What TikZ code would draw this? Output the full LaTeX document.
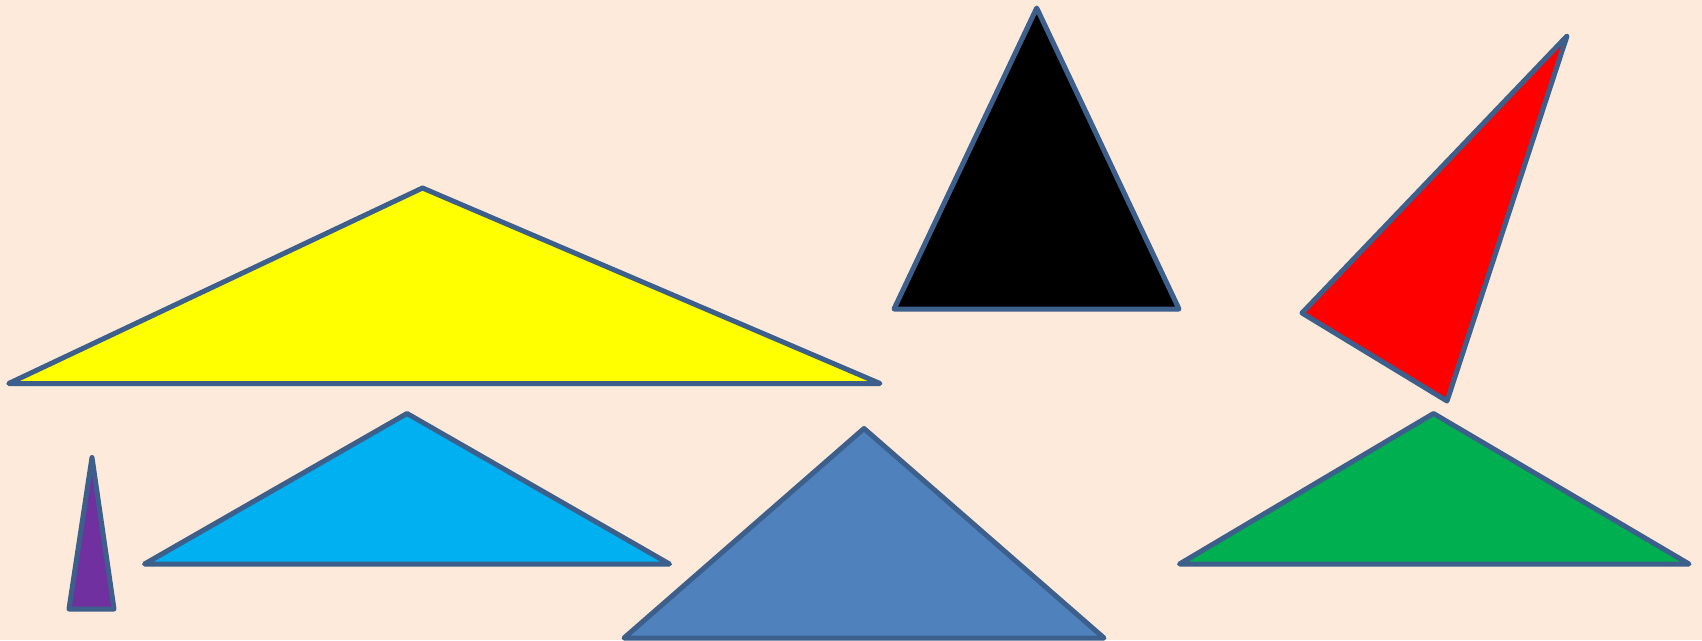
\documentclass[tikz,border=0pt]{standalone}
\definecolor{bgc}{HTML}{FDEADA}
\definecolor{edge}{HTML}{3C5F8C}
\definecolor{cyellow}{HTML}{FFFF00}
\definecolor{cred}{HTML}{FF0000}
\definecolor{cpurple}{HTML}{7030A0}
\definecolor{cblue}{HTML}{00B0F0}
\definecolor{csteel}{HTML}{4F81BD}
\definecolor{cgreen}{HTML}{00B050}
\begin{document}
\begin{tikzpicture}[x=1pt,y=-1pt,
  tri/.style={draw=edge,line width=5pt,line join=round}]
\fill[bgc] (0,0) rectangle (1702,640);
\useasboundingbox (0,0) rectangle (1702,640);
% yellow
\filldraw[tri,fill=cyellow] (8.7,383.5) -- (422.5,188) -- (880,383.5) -- cycle;
% black
\filldraw[tri,fill=black] (894,309) -- (1036.7,8) -- (1179,309) -- cycle;
% red
\filldraw[tri,fill=cred] (1302,313) -- (1567,36) -- (1447,401) -- cycle;
% purple
\filldraw[tri,fill=cpurple] (69,609) -- (92,457.5) -- (114,609) -- cycle;
% blue
\filldraw[tri,fill=cblue] (144.5,564) -- (407,413.5) -- (669.5,564) -- cycle;
% steel blue
\filldraw[tri,fill=csteel] (624,638) -- (864,428.5) -- (1104,638) -- cycle;
% green
\filldraw[tri,fill=cgreen] (1179.5,564) -- (1433.5,413.5) -- (1689,564) -- cycle;
\end{tikzpicture}
\end{document}
